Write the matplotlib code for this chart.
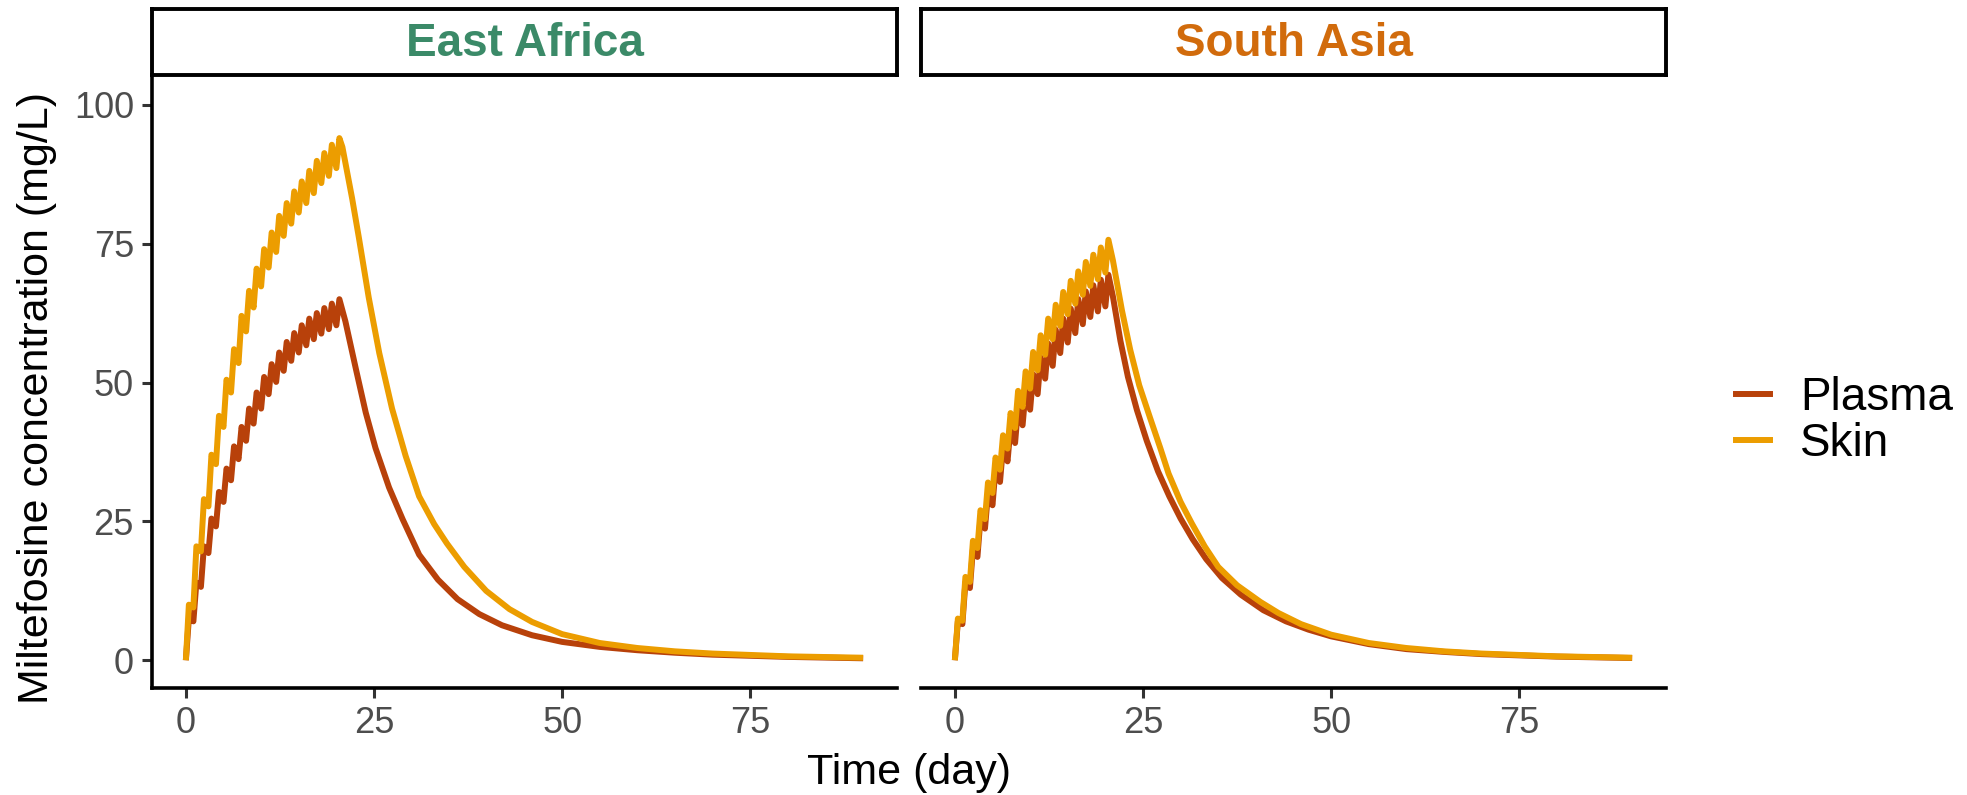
import matplotlib
matplotlib.use('Agg')
import matplotlib.pyplot as plt
from matplotlib.lines import Line2D

plt.rcParams['font.family'] = ['Liberation Sans', 'DejaVu Sans']

regions = ['East Africa', 'South Asia']
region_colors = ['#3B8A68', '#D16B0C']
tissues = ['Plasma', 'Skin']
tissue_colors = ['#B8410A', '#EC9D00']

# one dose a day, day 0 .. 20 ; trough just before the dose, peak shortly after
dose_days = list(range(21))

ea_plasma_trough = [0, 7.0, 13.2, 19.3, 24.1, 28.5, 32.4, 36.2, 39.5, 42.6, 45.3, 47.9, 50.1, 52.1, 53.9, 55.4, 56.7, 57.8, 58.8, 59.6, 60.3]
ea_plasma_peak = [7.5, 14, 20.5, 25.5, 30.3, 34.5, 38.5, 42, 45.3, 48.2, 51, 53.3, 55.4, 57.3, 58.9, 60.3, 61.5, 62.5, 63.4, 64.2, 65]
ea_skin_trough = [0, 9.5, 19.6, 27.7, 35.3, 42, 48.2, 53.5, 59.2, 63.5, 67.3, 70.7, 73.5, 76.4, 78.6, 80.6, 82.3, 84.1, 85.9, 87.2, 88.6]
ea_skin_peak = [10, 20.5, 29, 37, 44, 50.5, 56, 62, 66.5, 70.5, 74, 77, 80, 82.3, 84.4, 86.2, 88.1, 89.9, 91.3, 92.8, 94.0]

sa_plasma_trough = [0, 6.5, 13, 18.6, 23.7, 27.9, 32.1, 35.8, 39.1, 42.3, 45.1, 47.9, 50.7, 53, 55.3, 57.2, 58.9, 60.5, 61.8, 62.8, 63.7]
sa_plasma_peak = [7, 14, 20, 25.5, 30, 34.5, 38.5, 42, 45.5, 48.5, 51.5, 54.5, 57, 59.5, 61.5, 63.3, 65, 66.4, 67.5, 68.5, 69.4]
sa_skin_trough = [0, 7.1, 14.1, 20.2, 25.4, 30.1, 34.3, 38.1, 41.8, 45.6, 48.9, 52.2, 55, 57.8, 60.2, 62.3, 64.2, 65.8, 67.4, 68.6, 69.8]
sa_skin_peak = [7.5, 15, 21.5, 27, 32, 36.5, 40.5, 44.5, 48.5, 52, 55.5, 58.5, 61.5, 64, 66.3, 68.3, 70, 71.7, 73, 74.3, 75.7]

# wash-out after the last dose
ea_plasma_decay_t = [21.2, 22.6, 23.9, 25.2, 27.0, 28.8, 31.0, 33.5, 36.1, 39, 42, 46, 50, 55, 60, 65, 70, 80, 90]
ea_plasma_decay_v = [61, 52.4, 44.6, 38.2, 31.1, 25.4, 19, 14.5, 11, 8.3, 6.3, 4.5, 3.3, 2.4, 1.8, 1.35, 1.0, 0.6, 0.35]
ea_skin_decay_t = [20.8, 22.1, 23.0, 24.3, 25.7, 27.4, 29.2, 31.0, 33.0, 34.7, 37.0, 39.9, 43, 46, 50, 55, 60, 65, 70, 80, 90]
ea_skin_decay_v = [92.4, 83.1, 76, 65.3, 55.3, 45.3, 36.8, 29.5, 24.5, 21, 16.8, 12.5, 9.2, 6.9, 4.7, 3.1, 2.2, 1.6, 1.2, 0.7, 0.45]

sa_plasma_decay_t = [21.0, 22.0, 23.0, 24.2, 25.5, 27.0, 28.5, 30.0, 31.6, 33.4, 35.5, 38, 41, 44, 47, 50, 55, 60, 65, 70, 80, 90]
sa_plasma_decay_v = [65.5, 57.5, 51, 45, 39.5, 34, 29.5, 25.5, 21.8, 18.2, 14.8, 11.8, 9.0, 7.0, 5.5, 4.3, 2.9, 2.0, 1.5, 1.1, 0.65, 0.4]
sa_skin_decay_t = [21.0, 22.2, 23.3, 24.5, 25.9, 27.3, 28.4, 30.0, 31.5, 33.2, 35.0, 37.5, 40.6, 43, 46, 50, 55, 60, 65, 70, 80, 90]
sa_skin_decay_v = [72, 63, 55.9, 49.5, 43.8, 38.2, 33.6, 28.5, 24.6, 20.5, 16.8, 13.5, 10.5, 8.5, 6.5, 4.6, 3.1, 2.2, 1.6, 1.2, 0.7, 0.45]


def build_curve(trough, peak, decay_t, decay_v):
    t, c = [], []
    for d, lo, hi in zip(dose_days, trough, peak):
        t += [d, d + 0.4]
        c += [lo, hi]
    return t + decay_t, c + decay_v


curves = {
    'East Africa': [build_curve(ea_plasma_trough, ea_plasma_peak, ea_plasma_decay_t, ea_plasma_decay_v),
                    build_curve(ea_skin_trough, ea_skin_peak, ea_skin_decay_t, ea_skin_decay_v)],
    'South Asia': [build_curve(sa_plasma_trough, sa_plasma_peak, sa_plasma_decay_t, sa_plasma_decay_v),
                   build_curve(sa_skin_trough, sa_skin_peak, sa_skin_decay_t, sa_skin_decay_v)],
}

W, H = 1967, 795
fig = plt.figure(figsize=(W / 100, H / 100), dpi=100)

panel_left = [152, 921]
panel_w = 745
ax_bottom = 1 - 688 / H
ax_top = 1 - 77 / H
strip_top = 1 - 9 / H

for i, reg in enumerate(regions):
    x0 = panel_left[i] / W
    ax = fig.add_axes([x0, ax_bottom, panel_w / W, ax_top - ax_bottom])
    for (t, c), col in zip(curves[reg], tissue_colors):
        ax.plot(t, c, color=col, lw=4.3, solid_joinstyle='round', solid_capstyle='butt')
    ax.set_xlim(-4.5, 94.5)
    ax.set_ylim(-5, 105)
    ax.set_xticks([0, 25, 50, 75])
    ax.set_yticks([0, 25, 50, 75, 100])
    for s in ['top', 'right']:
        ax.spines[s].set_visible(False)
    ax.spines['bottom'].set_linewidth(2.6)
    ax.spines['left'].set_linewidth(2.6)
    ax.tick_params(axis='both', labelsize=26, labelcolor='#4D4D4D', color='#333333',
                   width=2.2, length=7, pad=6)
    if i == 1:
        ax.spines['left'].set_visible(False)
        ax.tick_params(axis='y', left=False, labelleft=False)

    # facet strip
    sax = fig.add_axes([x0, ax_top + 2 / H, panel_w / W, strip_top - ax_top - 2 / H])
    sax.set_xticks([])
    sax.set_yticks([])
    for s in sax.spines.values():
        s.set_linewidth(2.8)
        s.set_color('black')
    sax.text(0.5, 0.47, reg, transform=sax.transAxes, ha='center', va='center',
             fontsize=33, fontweight='bold', color=region_colors[i])

fig.text(37 / W, 1 - 398 / H, 'Miltefosine concentration (mg/L)', rotation=90,
         ha='center', va='center', fontsize=31)
fig.text(909 / W, 1 - 773 / H, 'Time (day)', ha='center', va='center', fontsize=31)

handles = [Line2D([], [], color=c, lw=4.3) for c in tissue_colors]
fig.legend(handles, tissues, loc='center left', bbox_to_anchor=(1736 / W, 1 - 421 / H),
           frameon=False, fontsize=33, handlelength=0.75, handletextpad=0.65,
           labelspacing=0.05, borderaxespad=0, borderpad=0)

fig.savefig('out.png', dpi=100)
